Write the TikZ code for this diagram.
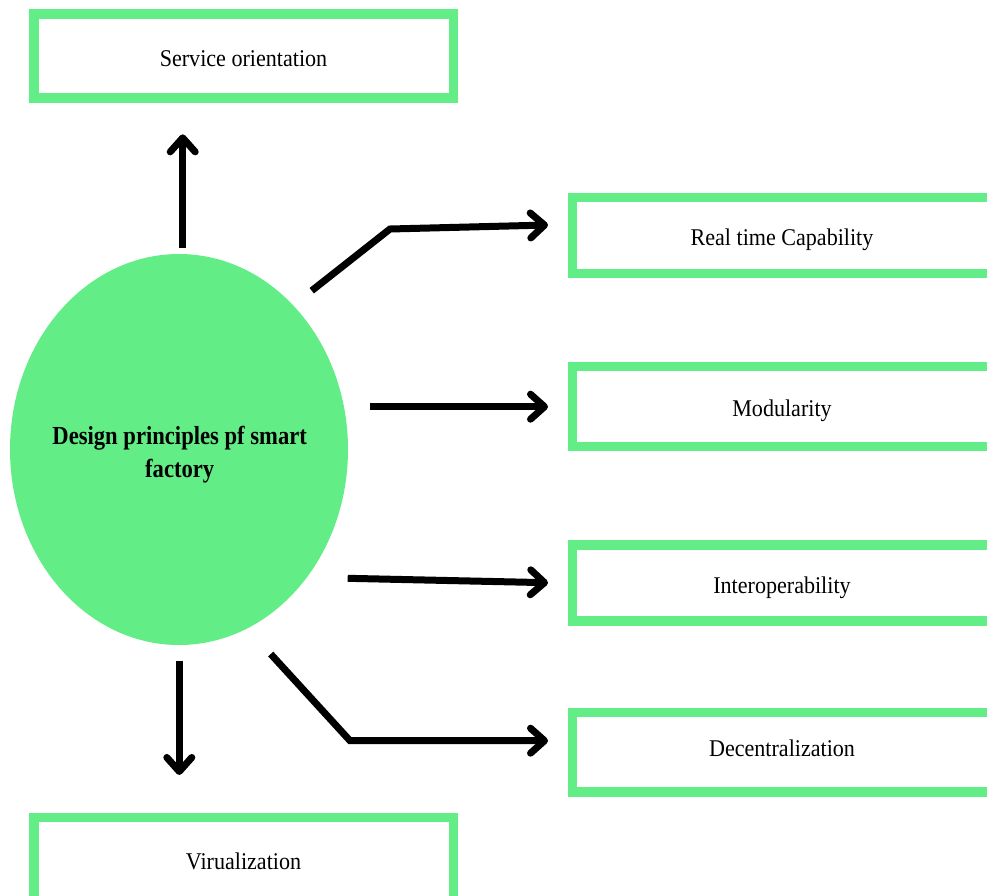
\documentclass[tikz,border=0pt]{standalone}
\usepackage{fontspec}
\setmainfont{Liberation Serif}[FakeStretch=0.92]
\newfontfamily\hubfont{Liberation Serif}[FakeStretch=0.87]
\usetikzlibrary{arrows.meta,calc,shapes.geometric}
\definecolor{leaf}{RGB}{98,237,134}
\begin{document}
\begin{tikzpicture}[x=1pt,y=-1pt,
  box/.style={draw=leaf, line width=9.5pt, minimum width=419.5pt, inner sep=0pt,
              text height=20.5pt, text depth=0pt,
              font=\fontsize{24}{28}\selectfont},
  link/.style={line width=7pt, -{Straight Barb[length=14pt,width=25pt,round]}},
]
\useasboundingbox (0,0) rectangle (987,895);
\clip (0,0) rectangle (987,895);

% central ellipse
\node[ellipse, fill=leaf, minimum width=338pt, minimum height=391pt, inner sep=0pt] (hub) at (179,449.5) {};
\node[font=\hubfont\bfseries\fontsize{26}{33}\selectfont, align=center, inner sep=0pt] (hubtext) at (179.7,454.5)
  {Design principles pf smart\\factory};

% principle boxes
\node[box, minimum height=84pt]   (serv)  at (243.5,56)   {Service orientation};
\node[box, minimum height=76pt]   (real)  at (782,235.3)  {Real time Capability};
\node[box, minimum height=80pt]   (modu)  at (782,406.4)  {Modularity};
\node[box, minimum height=76pt]   (inter) at (782,583)    {Interoperability};
\node[box, minimum height=79.5pt, text depth=11pt] (dece) at (782,752) {Decentralization};
\node[box, minimum height=84pt]   (virt)  at (243.5,859.5){Virualization};

% connector start points and bends
\coordinate (upfoot)   at (182.7,248);
\coordinate (downfoot) at (179.3,660.7);
\coordinate (realfoot) at (311.7,290.7);
\coordinate (realbend) at (390,229);
\coordinate (modufoot) at (370,406.7);
\coordinate (interfoot) at (347.7,578.3);
\coordinate (decefoot) at (270.7,654);
\coordinate (decebend) at (350,740.7);

\draw[link] (upfoot) -- ($(serv.south)+(-60.8,31.6)$);
\draw[link] (downfoot) -- ($(virt.north)+(-64.2,-37.8)$);
\draw[link] (realfoot) -- (realbend) -- ($(real.west)+(-19.5,-10.3)$);
\draw[link] (modufoot) -- ($(modu.west)+(-19.5,0.3)$);
\draw[link] (interfoot) -- ($(inter.west)+(-19.5,-0.3)$);
\draw[link] (decefoot) -- (decebend) -- ($(dece.west)+(-19.5,-11.3)$);
\end{tikzpicture}
\end{document}
